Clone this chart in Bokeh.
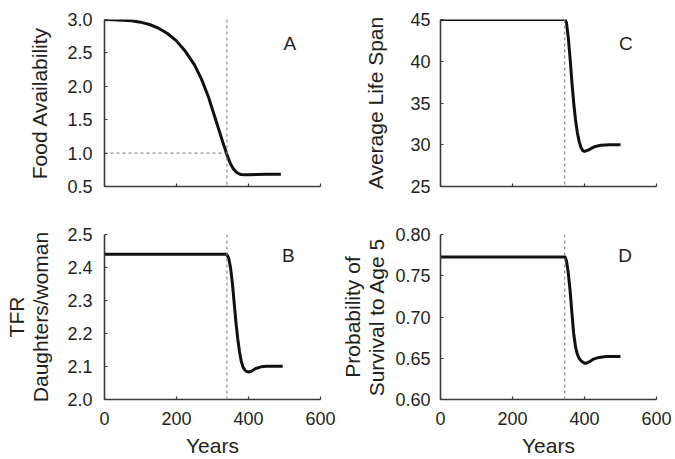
from bokeh.plotting import figure
from bokeh.layouts import column, row
from bokeh.models import Range1d, FixedTicker, PrintfTickFormatter, Label, Span
from bokeh.embed import file_html
from bokeh.resources import INLINE

# ---------------- data ----------------
x_ticks = [0, 200, 400, 600]

years_A = [0, 25, 50, 75, 100, 125, 150, 175, 200, 225, 250, 270, 290, 300, 310, 320,
           330, 335, 340, 345, 350, 355, 360, 365, 370, 375, 380, 390, 400, 420, 450, 490]
food = [3.00, 2.997, 2.99, 2.98, 2.96, 2.925, 2.87, 2.79, 2.68, 2.52, 2.32, 2.10, 1.82, 1.65, 1.48, 1.31,
        1.14, 1.06, 0.98, 0.905, 0.84, 0.79, 0.75, 0.72, 0.70, 0.688, 0.68, 0.675, 0.675, 0.68, 0.683, 0.683]

years_B = [0, 340, 345, 350, 355, 360, 365, 370, 375, 380, 385, 390, 395, 400, 410, 420, 435, 450, 470, 495]
tfr = [2.44, 2.44, 2.428, 2.40, 2.355, 2.295, 2.235, 2.185, 2.145, 2.115, 2.098, 2.089, 2.085, 2.083,
       2.087, 2.094, 2.099, 2.101, 2.101, 2.101]

years_C = [0, 346, 350, 355, 360, 365, 370, 375, 380, 385, 390, 395, 400, 410, 420, 430, 445, 470, 500]
life = [45, 45, 44.6, 42.8, 40.3, 37.5, 35.0, 33.0, 31.5, 30.4, 29.7, 29.3, 29.2, 29.35, 29.6, 29.8,
        29.95, 30.0, 30.0]

years_D = [0, 346, 350, 355, 360, 365, 370, 375, 380, 385, 390, 400, 405, 415, 425, 440, 460, 500]
surv = [0.7728, 0.7728, 0.768, 0.753, 0.732, 0.705, 0.680, 0.664, 0.655, 0.650, 0.647, 0.644, 0.644,
        0.646, 0.649, 0.651, 0.652, 0.652]

threshold_left = 340
threshold_right = 345
food_threshold = 1.0

FONT = "Liberation Sans"
TXT = "#231f20"
AX = "#3a3a3a"
DASH = "#8a8a8a"


def make(width, height, bl, br, bt, bb, yr, yticks, fmt, ylabel, show_x, letter, letter_xy,
         vline, tick_standoff, label_standoff):
    p = figure(width=width, height=height, output_backend="svg", toolbar_location=None,
               x_range=Range1d(0, 600), y_range=Range1d(*yr),
               min_border_left=bl, min_border_right=br, min_border_top=bt, min_border_bottom=bb)
    p.outline_line_color = None
    p.grid.visible = False
    p.background_fill_color = "white"
    p.border_fill_color = "white"

    for ax in (p.xaxis[0], p.yaxis[0]):
        ax.axis_line_color = AX
        ax.axis_line_width = 1.6
        ax.major_tick_line_color = AX
        ax.major_tick_line_width = 1.2
        ax.major_tick_in = 3
        ax.major_tick_out = 0
        ax.minor_tick_line_color = None
        ax.major_label_text_font = FONT
        ax.major_label_text_font_size = "18px"
        ax.major_label_text_color = TXT
        ax.axis_label_text_font = FONT
        ax.axis_label_text_font_size = "21px"
        ax.axis_label_text_font_style = "normal"
        ax.axis_label_text_color = TXT

    p.xaxis.ticker = FixedTicker(ticks=x_ticks)
    p.yaxis.ticker = FixedTicker(ticks=yticks)
    p.yaxis.formatter = PrintfTickFormatter(format=fmt)
    p.yaxis.axis_label = ylabel
    p.yaxis.axis_label_text_line_height = 1.08
    p.yaxis.major_label_standoff = tick_standoff
    p.yaxis.axis_label_standoff = label_standoff
    if show_x:
        p.xaxis.axis_label = "Years"
        p.xaxis.major_label_standoff = 12
        p.xaxis.axis_label_standoff = 6
    else:
        p.xaxis.major_label_overrides = {t: "" for t in x_ticks}
        p.xaxis.major_label_standoff = 0

    p.add_layout(Span(location=vline, dimension="height", line_color=DASH,
                      line_width=1.2, line_dash="3 3"))

    p.add_layout(Label(x=letter_xy[0], y=letter_xy[1], text=letter, text_font=FONT,
                       text_font_size="19px", text_color=TXT, text_align="center",
                       text_baseline="middle"))
    return p


LW, RW = 336, 339
TH, BH = 206, 253

# A: Food availability
pA = make(LW, TH, 104, 16, 19, 20, (0.5, 3.0), [0.5, 1.0, 1.5, 2.0, 2.5, 3.0], "%.1f",
          "Food Availability", False, "A", (515, 2.64), threshold_left, 12, 13)
pA.line([0, threshold_left], [food_threshold, food_threshold], line_color=DASH,
        line_width=1.2, line_dash="3 3")
pA.line(years_A, food, line_color="#111111", line_width=3, line_join="round")

# C: Average life span
pC = make(RW, TH, 104, 19, 19, 20, (25, 45), [25, 30, 35, 40, 45], "%d",
          "Average Life Span", False, "C", (515, 42.1), threshold_right, 10, 20)
pC.line(years_C, life, line_color="#111111", line_width=3, line_join="round")

# B: TFR
pB = make(LW, BH, 104, 16, 28, 59, (2.0, 2.5), [2.0, 2.1, 2.2, 2.3, 2.4, 2.5], "%.1f",
          "TFR\nDaughters/woman", True, "B", (511, 2.435), threshold_left, 12, 12)
pB.line(years_B, tfr, line_color="#111111", line_width=3, line_join="round")

# D: survival to age 5
pD = make(RW, BH, 104, 19, 28, 59, (0.60, 0.80), [0.60, 0.65, 0.70, 0.75, 0.80], "%.2f",
          "Probability of\nSurvival to Age 5", True, "D", (513, 0.774), threshold_right, 10, 4)
pD.line(years_D, surv, line_color="#111111", line_width=3, line_join="round")

layout = column(row(pA, pC), row(pB, pD))

open("out.html", "w").write(file_html(layout, INLINE))
